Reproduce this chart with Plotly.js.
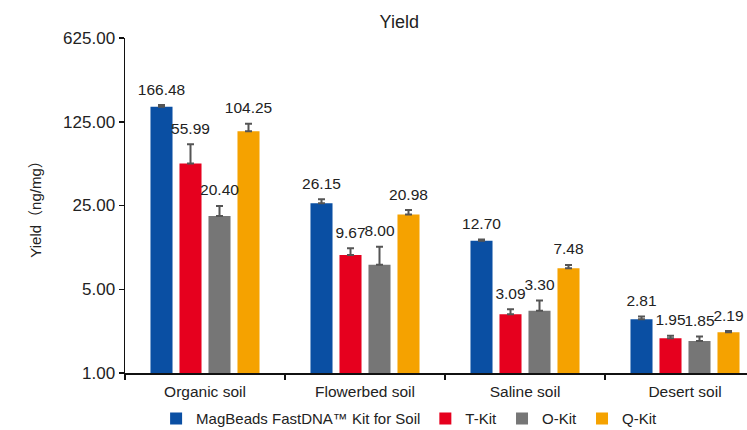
<!DOCTYPE html>
<html>
<head>
<meta charset="utf-8">
<script src="https://cdn.plot.ly/plotly-3.0.1.min.js"></script>
<style>html,body{margin:0;padding:0;background:#fff;}#chart{width:747px;height:430px;}</style>
</head>
<body>
<div id="chart"></div>
<script>
const categories = ["Organic soil", "Flowerbed soil", "Saline soil", "Desert soil"];
const seriesNames = ["MagBeads FastDNA\u2122 Kit for Soil", "T-Kit", "O-Kit", "Q-Kit"];
const magbeads = [166.48, 26.15, 12.70, 2.81];
const tkit = [55.99, 9.67, 3.09, 1.95];
const okit = [20.40, 8.00, 3.30, 1.85];
const qkit = [104.25, 20.98, 7.48, 2.19];
const magbeadsErr = [6, 2.0, 0.3, 0.15];
const tkitErr = [25, 1.3, 0.32, 0.1];
const okitErr = [4.4, 3.3, 0.72, 0.17];
const qkitErr = [16, 1.9, 0.5, 0.05];
const yTickVals = [1, 5, 25, 125, 625];
const yTickText = ["1.00", "5.00", "25.00", "125.00", "625.00"];
const colors = ["#0a4fa3", "#e6001e", "#767676", "#f5a200"];

const values = [magbeads, tkit, okit, qkit];
const errs = [magbeadsErr, tkitErr, okitErr, qkitErr];
const font = "Arial, 'Liberation Sans', 'Noto Sans CJK SC', sans-serif";

const traces = [];
values.forEach((v, i) => {
  traces.push({
    type: "bar", name: seriesNames[i], x: categories, y: v,
    marker: {color: colors[i]},
    error_y: {type: "data", array: errs[i], symmetric: false, arrayminus: v.map(() => 0),
              color: "#555555", thickness: 2, width: 3.5},
    hoverinfo: "skip"
  });
});
values.forEach((v, i) => {
  traces.push({
    type: "scatter", mode: "markers+text", x: categories, y: v.map((d, k) => d + errs[i][k]),
    marker: {size: 9, color: "rgba(0,0,0,0)"},
    text: v.map(d => d.toFixed(2)), textposition: "top center",
    textfont: {family: font, size: 15.5, color: "#222222"},
    showlegend: false, hoverinfo: "skip", cliponaxis: false
  });
});

const layout = {
  width: 747, height: 430,
  margin: {l: 125, r: 0, t: 38, b: 57, pad: 0},
  paper_bgcolor: "#ffffff", plot_bgcolor: "#ffffff",
  font: {family: font, color: "#222222"},
  title: {text: "Yield", x: 0.441, xref: "paper", xanchor: "center", y: 0.949, yref: "container", yanchor: "middle",
          font: {family: font, size: 18, color: "#222222"}},
  barmode: "group", bargap: 0.275, bargroupgap: 0.24,
  scattermode: "group", scattergap: 0.275,
  xaxis: {type: "category", range: [-0.5, 3.3875], showline: true, linecolor: "#111111", linewidth: 1.5,
          ticks: "outside", tickson: "boundaries", ticklen: 5, tickwidth: 1.5, tickcolor: "#111111",
          tickfont: {family: font, size: 15.5, color: "#222222"}, ticklabelstandoff: 4,
          showgrid: false, zeroline: false, fixedrange: true},
  yaxis: {type: "log", range: [0, Math.log10(625)], tickvals: yTickVals, ticktext: yTickText,
          showline: true, linecolor: "#111111", linewidth: 1.5, ticks: "outside", ticklen: 5, tickwidth: 1.5,
          tickcolor: "#111111", tickfont: {family: font, size: 17, color: "#222222"},
          showgrid: false, zeroline: false, fixedrange: true,
          title: {text: "Yield\uff08ng/mg\uff09", font: {family: font, size: 15, color: "#222222"}, standoff: 18}},
  showlegend: true,
  legend: {orientation: "h", x: 0.05, xanchor: "left", y: 0.026, yref: "container", yanchor: "middle",
           font: {family: font, size: 15, color: "#222222"}, itemwidth: 30, traceorder: "normal"}
};

Plotly.newPlot("chart", traces, layout, {displayModeBar: false, staticPlot: true});
</script>
</body>
</html>
